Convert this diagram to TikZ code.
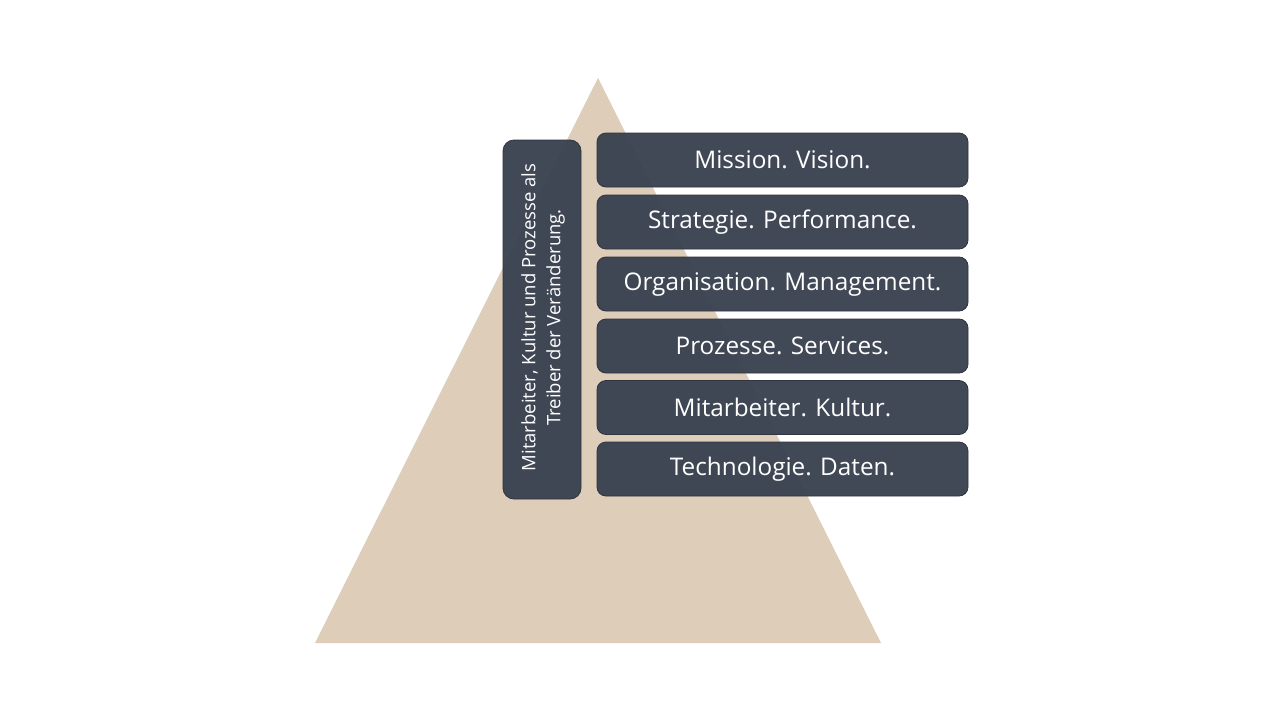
\documentclass[tikz,border=0pt]{standalone}
\usepackage{fontspec}
\setmainfont{Open Sans}
\definecolor{sand}{HTML}{DDCDB9}
\definecolor{slate}{HTML}{3A4250}
\definecolor{slateedge}{HTML}{2E353F}
\begin{document}
\begin{tikzpicture}[x=1pt,y=-1pt,
  layer/.style={draw=slateedge,line width=0.8pt,fill=slate,fill opacity=0.96,text opacity=1,rounded corners=9pt,
    minimum width=371pt,minimum height=54pt,inner sep=0pt,text=white,font=\fontsize{24.3}{28}\selectfont},
  sidebox/.style={draw=slateedge,line width=0.8pt,fill=slate,fill opacity=0.96,text opacity=1,rounded corners=11pt,
    minimum width=78pt,minimum height=359pt,inner sep=0pt}]
\useasboundingbox (0,0) rectangle (1280,720);
\fill[white] (0,0) rectangle (1280,720);
\coordinate (apex) at (598,78);
\coordinate (bl) at (315,643);
\coordinate (br) at (881,643);
\fill[sand] (apex) -- (br) -- (bl) -- cycle;
\node[layer] (l1) at (782.5,160) {Mission. Vision.};
\node[layer] (l2) at (782.5,222) {Strategie. Performance.};
\node[layer] (l3) at (782.5,284) {Organisation. Management.};
\node[layer] (l4) at (782.5,346) {Prozesse. Services.};
\node[layer] (l5) at (782.5,407.5) {Mitarbeiter. Kultur.};
\node[layer] (l6) at (782.5,469) {Technologie. Daten.};
\node[sidebox] (side) at (542,319.5) {};
\node[rotate=90,text=white,align=center,font=\fontsize{18.5}{25}\selectfont] (sidetext) at ([xshift=1pt,yshift=2pt]side.center)
  {Mitarbeiter, Kultur und Prozesse als\\Treiber der Veränderung.};
\end{tikzpicture}
\end{document}
